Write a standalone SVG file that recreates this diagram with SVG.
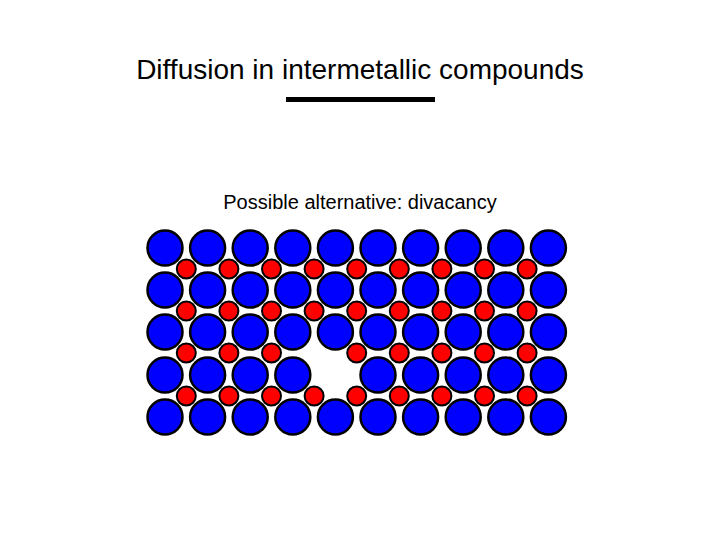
<svg xmlns="http://www.w3.org/2000/svg" width="720" height="540" viewBox="0 0 720 540">
<style>
.t{font-family:"Liberation Sans",Arial,sans-serif;fill:#000}
.b{fill:#0000ff;stroke:#000;stroke-width:2.5}
.r{fill:#ff0000;stroke:#000;stroke-width:2}
</style>
<rect width="720" height="540" fill="#fff"/>
<text class="t" x="360" y="79" font-size="28" text-anchor="middle">Diffusion in intermetallic compounds</text>
<rect x="286" y="97" width="149" height="5" fill="#000"/>
<text class="t" x="360" y="209" font-size="20" text-anchor="middle">Possible alternative: divacancy</text>
<g id="lattice">
<g id="blue">
<circle class="b" cx="165" cy="248" r="17.5"/><circle class="b" cx="207.6" cy="248" r="17.5"/><circle class="b" cx="250.2" cy="248" r="17.5"/><circle class="b" cx="292.8" cy="248" r="17.5"/><circle class="b" cx="335.4" cy="248" r="17.5"/><circle class="b" cx="378" cy="248" r="17.5"/><circle class="b" cx="420.6" cy="248" r="17.5"/><circle class="b" cx="463.2" cy="248" r="17.5"/><circle class="b" cx="505.8" cy="248" r="17.5"/><circle class="b" cx="548.4" cy="248" r="17.5"/>
<circle class="b" cx="165" cy="290" r="17.5"/><circle class="b" cx="207.6" cy="290" r="17.5"/><circle class="b" cx="250.2" cy="290" r="17.5"/><circle class="b" cx="292.8" cy="290" r="17.5"/><circle class="b" cx="335.4" cy="290" r="17.5"/><circle class="b" cx="378" cy="290" r="17.5"/><circle class="b" cx="420.6" cy="290" r="17.5"/><circle class="b" cx="463.2" cy="290" r="17.5"/><circle class="b" cx="505.8" cy="290" r="17.5"/><circle class="b" cx="548.4" cy="290" r="17.5"/>
<circle class="b" cx="165" cy="332" r="17.5"/><circle class="b" cx="207.6" cy="332" r="17.5"/><circle class="b" cx="250.2" cy="332" r="17.5"/><circle class="b" cx="292.8" cy="332" r="17.5"/><circle class="b" cx="335.4" cy="332" r="17.5"/><circle class="b" cx="378" cy="332" r="17.5"/><circle class="b" cx="420.6" cy="332" r="17.5"/><circle class="b" cx="463.2" cy="332" r="17.5"/><circle class="b" cx="505.8" cy="332" r="17.5"/><circle class="b" cx="548.4" cy="332" r="17.5"/>
<circle class="b" cx="165" cy="375" r="17.5"/><circle class="b" cx="207.6" cy="375" r="17.5"/><circle class="b" cx="250.2" cy="375" r="17.5"/><circle class="b" cx="292.8" cy="375" r="17.5"/><circle class="b" cx="378" cy="375" r="17.5"/><circle class="b" cx="420.6" cy="375" r="17.5"/><circle class="b" cx="463.2" cy="375" r="17.5"/><circle class="b" cx="505.8" cy="375" r="17.5"/><circle class="b" cx="548.4" cy="375" r="17.5"/>
<circle class="b" cx="165" cy="417" r="17.5"/><circle class="b" cx="207.6" cy="417" r="17.5"/><circle class="b" cx="250.2" cy="417" r="17.5"/><circle class="b" cx="292.8" cy="417" r="17.5"/><circle class="b" cx="335.4" cy="417" r="17.5"/><circle class="b" cx="378" cy="417" r="17.5"/><circle class="b" cx="420.6" cy="417" r="17.5"/><circle class="b" cx="463.2" cy="417" r="17.5"/><circle class="b" cx="505.8" cy="417" r="17.5"/><circle class="b" cx="548.4" cy="417" r="17.5"/>
</g>
<g id="red">
<circle class="r" cx="186.3" cy="269" r="9.5"/><circle class="r" cx="228.9" cy="269" r="9.5"/><circle class="r" cx="271.5" cy="269" r="9.5"/><circle class="r" cx="314.1" cy="269" r="9.5"/><circle class="r" cx="356.7" cy="269" r="9.5"/><circle class="r" cx="399.3" cy="269" r="9.5"/><circle class="r" cx="441.9" cy="269" r="9.5"/><circle class="r" cx="484.5" cy="269" r="9.5"/><circle class="r" cx="527.1" cy="269" r="9.5"/>
<circle class="r" cx="186.3" cy="311" r="9.5"/><circle class="r" cx="228.9" cy="311" r="9.5"/><circle class="r" cx="271.5" cy="311" r="9.5"/><circle class="r" cx="314.1" cy="311" r="9.5"/><circle class="r" cx="356.7" cy="311" r="9.5"/><circle class="r" cx="399.3" cy="311" r="9.5"/><circle class="r" cx="441.9" cy="311" r="9.5"/><circle class="r" cx="484.5" cy="311" r="9.5"/><circle class="r" cx="527.1" cy="311" r="9.5"/>
<circle class="r" cx="186.3" cy="353" r="9.5"/><circle class="r" cx="228.9" cy="353" r="9.5"/><circle class="r" cx="271.5" cy="353" r="9.5"/><circle class="r" cx="356.7" cy="353" r="9.5"/><circle class="r" cx="399.3" cy="353" r="9.5"/><circle class="r" cx="441.9" cy="353" r="9.5"/><circle class="r" cx="484.5" cy="353" r="9.5"/><circle class="r" cx="527.1" cy="353" r="9.5"/>
<circle class="r" cx="186.3" cy="396" r="9.5"/><circle class="r" cx="228.9" cy="396" r="9.5"/><circle class="r" cx="271.5" cy="396" r="9.5"/><circle class="r" cx="314.1" cy="396" r="9.5"/><circle class="r" cx="356.7" cy="396" r="9.5"/><circle class="r" cx="399.3" cy="396" r="9.5"/><circle class="r" cx="441.9" cy="396" r="9.5"/><circle class="r" cx="484.5" cy="396" r="9.5"/><circle class="r" cx="527.1" cy="396" r="9.5"/>
</g>
</g>
</svg>
